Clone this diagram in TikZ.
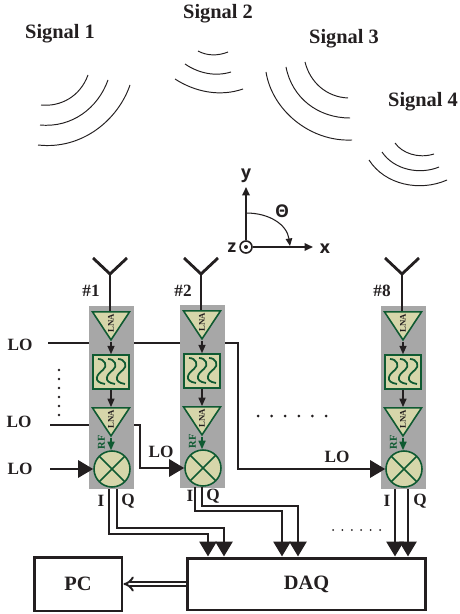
\documentclass[tikz,border=0pt]{standalone}
\usepackage{xcolor}
\usepackage{fontspec}
\setmainfont{Liberation Serif}
\newfontfamily\axisfont{Open Sans}
\usetikzlibrary{shapes.geometric,arrows.meta,calc}
\definecolor{rxblack}{HTML}{231F20}
\definecolor{rxgray}{HTML}{A7A7A7}
\definecolor{rxgreen}{HTML}{0F5A32}
\definecolor{rxkhaki}{HTML}{D6D6AA}
\tikzset{
  biglabel/.style={font=\fontsize{11.6}{13}\selectfont\bfseries,rxblack,inner sep=0pt},
  lolabel/.style={font=\fontsize{9.8}{11}\selectfont\bfseries,rxblack,inner sep=0pt},
  axislabel/.style={font=\fontsize{10}{12}\selectfont\axisfont\bfseries,rxblack,inner sep=0pt},
  wave/.style={line width=0.55pt,rxblack},
  feed/.style={line width=1.6pt,rxblack},
  bigarrow/.style={feed,-{Triangle[length=3mm,width=3.4mm]}},
  chainarrow/.style={line width=0.9pt,rxblack,-{Triangle[length=1.7mm,width=1.4mm]}},
  rfarrow/.style={line width=0.9pt,rxgreen,-{Triangle[length=1.7mm,width=1.4mm]}},
  chanbox/.style={fill=rxgray,minimum width=0.89cm,minimum height=3.65cm,inner sep=0pt},
  lnabox/.style={draw=rxgreen,fill=rxkhaki,line width=0.9pt,isosceles triangle,
    isosceles triangle stretches,shape border rotate=180,rotate=90,
    minimum width=0.74cm,minimum height=0.56cm,inner sep=0pt,
    font=\fontsize{5}{6}\selectfont\bfseries,text=rxblack},
  filterbox/.style={draw=rxgreen,fill=rxkhaki,line width=1.1pt,minimum width=0.71cm,
    minimum height=0.67cm,inner sep=0pt},
  mixerbox/.style={draw=rxgreen,fill=rxkhaki,line width=0.9pt,circle,minimum size=0.72cm,
    inner sep=0pt,path picture={
      \draw[rxgreen,line width=0.9pt] (path picture bounding box.north west)
        -- (path picture bounding box.south east)
        (path picture bounding box.north east)
        -- (path picture bounding box.south west);}},
  blockbox/.style={draw=rxblack,line width=1.7pt,fill=white,inner sep=0pt,
    font=\fontsize{11.6}{13}\selectfont\bfseries,text=rxblack},
}
\begin{document}
\begin{tikzpicture}[x=0.02cm,y=-0.02cm]
  \useasboundingbox (0,0) rectangle (459,614);

  % Signal labels
  \node[biglabel] (sig1) at (60,34) {Signal 1};
  \node[biglabel] (sig2) at (218,14) {Signal 2};
  \node[biglabel] (sig3) at (344,39) {Signal 3};
  \node[biglabel] (sig4) at (423,102) {Signal 4};

  % Wave fronts
  \draw[wave] (88,75) .. controls (80,97) and (60,107) .. (41,105);
  \draw[wave] (108,80) .. controls (98,108) and (72,128) .. (40,125);
  \draw[wave] (130,85) .. controls (118,120) and (82,150) .. (38,145);
  \draw[wave] (198,51) .. controls (207,56) and (218,56) .. (228,52);
  \draw[wave] (185,64) .. controls (198,73) and (215,77) .. (231,72);
  \draw[wave] (175,79) .. controls (195,92) and (220,97) .. (243,89);
  \draw[wave] (305,62) .. controls (310,82) and (326,97) .. (348,98);
  \draw[wave] (286,67) .. controls (292,98) and (318,118) .. (350,118);
  \draw[wave] (266,72) .. controls (272,110) and (310,142) .. (352,140);
  \draw[wave] (395,143) .. controls (402,153) and (418,159) .. (434,154);
  \draw[wave] (382,152) .. controls (394,170) and (420,175) .. (439,167);
  \draw[wave] (369,160) .. controls (385,185) and (420,192) .. (447,180);

  % Axes
  \node[draw=rxblack,line width=0.9pt,circle,minimum size=0.24cm,inner sep=0pt] (org) at (246,247) {};
  \fill[rxblack] (org.center) circle (2);
  \coordinate (yend) at (246,187);
  \coordinate (xend) at (313,247);
  \coordinate (arcs) at (246,213);
  \coordinate (arce) at (290,246);
  \draw[line width=1pt,rxblack,-{Triangle[length=1.7mm,width=1.5mm]}] (org) -- (yend);
  \draw[line width=1pt,rxblack,-{Triangle[length=1.7mm,width=1.5mm]}] (org) -- (xend);
  \draw[line width=0.6pt,rxblack,-{Triangle[length=1.5mm,width=1.3mm]}] (arcs)
    .. controls (270,213) and (287,225) .. (arce);
  \node[axislabel] (ylab) at (246,176) {y};
  \node[axislabel] (xlab) at (325,249) {x};
  \node[axislabel] (zlab) at (232,248) {z};
  \node[axislabel] (thlab) at (282,211) {Θ};

  % Receiver channels
  \foreach \n/\cx/\cy/\lx/\ix/\qx in {1/111/0/91/101/128,2/202/-1/183/190/213,8/403/0/382/387/420} {
    \node[chanbox] (chan\n) at (\cx+0.5,397.5+\cy) {};
    \node[lnabox] (lnaa\n) at (\cx,323+\cy) {LNA};
    \node[filterbox] (filt\n) at (\cx,372+\cy) {};
    \node[lnabox] (lnab\n) at (\cx,419+\cy) {LNA};
    \node[mixerbox] (mix\n) at (\cx+1,469+\cy) {};
    \node[font=\fontsize{6}{7}\selectfont\bfseries,text=rxgreen,rotate=90,inner sep=0pt]
      (rf\n) at (\cx-9.5,442+\cy) {RF};
    \node[lolabel] (num\n) at (\lx,291) {\#\n};
    \node[lolabel] (ilab\n) at (\ix,501+\cy*5) {I};
    \node[lolabel] (qlab\n) at (\qx,501+\cy*5) {Q};

    % Antenna
    \coordinate (ant\n) at (\cx-1,274);
    \draw[feed] (\cx-18,258) -- (ant\n) -- (\cx+16,258);
    \draw[feed] (ant\n) -- (ant\n |- lnaa\n.lower side);

    % Chain
    \draw[chainarrow] (lnaa\n.apex) -- (filt\n.north);
    \draw[chainarrow] (filt\n.south) -- (lnab\n.lower side);
    \draw[rfarrow] (lnab\n.apex) -- (lnab\n.apex |- mix\n.north);

    % Filter curves
    \begin{scope}[shift={(filt\n.center)}]
      \foreach \dx in {-9,1,11} {
        \draw[rxgreen,line width=1pt] (\dx-4,-13) .. controls (\dx+3,-13) and (\dx+6,-6)
          .. (\dx+1,-2) .. controls (\dx-5,2) and (\dx-10,10) .. (\dx+3,12);
      }
    \end{scope}
  }

  % Blocks
  \node[blockbox,minimum width=4.78cm,minimum height=1.04cm] (daq) at (306.5,584) {DAQ};
  \node[blockbox,minimum width=1.76cm,minimum height=1.08cm] (pc) at (78,584) {PC};

  % LO feeds
  \node[lolabel] (lo1) at (20,345) {LO};
  \node[lolabel] (lo2) at (19,422) {LO};
  \node[lolabel] (lo3) at (20,469) {LO};
  \node[lolabel] (lo4) at (161,452) {LO};
  \node[lolabel] (lo5) at (337,457) {LO};
  \coordinate (los1) at (48,343);
  \coordinate (los2) at (50,425);
  \coordinate (los3) at (50,469);
  \draw[feed] (los1) -- (los1 -| chan1.west);
  \draw[feed] (los1 -| chan1.east) -- (los1 -| chan2.west);
  \draw[bigarrow] (los1 -| chan2.east) -- (238,343) |- (mix8.west);
  \draw[feed] (los2) -- (los2 -| chan1.west);
  \draw[bigarrow] (los2 -| chan1.east) -- (140,425) |- (mix2.west);
  \draw[bigarrow] (los3) -- (mix1.west);

  % I and Q outputs
  \coordinate (i1) at (109,489);
  \coordinate (q1) at (117,489);
  \coordinate (i2) at (195,487);
  \coordinate (q2) at (202,487);
  \coordinate (i8) at (395,489);
  \coordinate (q8) at (408,489);
  \coordinate (ti1) at (208,534);
  \coordinate (tq1) at (224,528);
  \coordinate (ti2) at (282,511);
  \coordinate (tq2) at (298,506);
  \draw[bigarrow] (i1) |- (ti1) -- (ti1 |- daq.north);
  \draw[bigarrow] (q1) |- (tq1) -- (tq1 |- daq.north);
  \draw[bigarrow] (i2) |- (ti2) -- (ti2 |- daq.north);
  \draw[bigarrow] (q2) |- (tq2) -- (tq2 |- daq.north);
  \draw[bigarrow] (i8) -- (i8 |- daq.north);
  \draw[bigarrow] (q8) -- (q8 |- daq.north);

  % Data link
  \draw[double=white,draw=rxblack,line width=1.1pt,double distance=1.7pt,-{Implies[length=2.2mm]}]
    (daq.west) -- (pc.east);

  % Dots
  \foreach \k in {0,...,5} {
    \fill[rxblack] (59,370+\k*9) circle (1.3);
    \fill[rxblack] (258+\k*13.6,416) circle (1.5);
    \fill[rxblack] (333+\k*9.4,530) circle (1);
  }
\end{tikzpicture}
\end{document}
